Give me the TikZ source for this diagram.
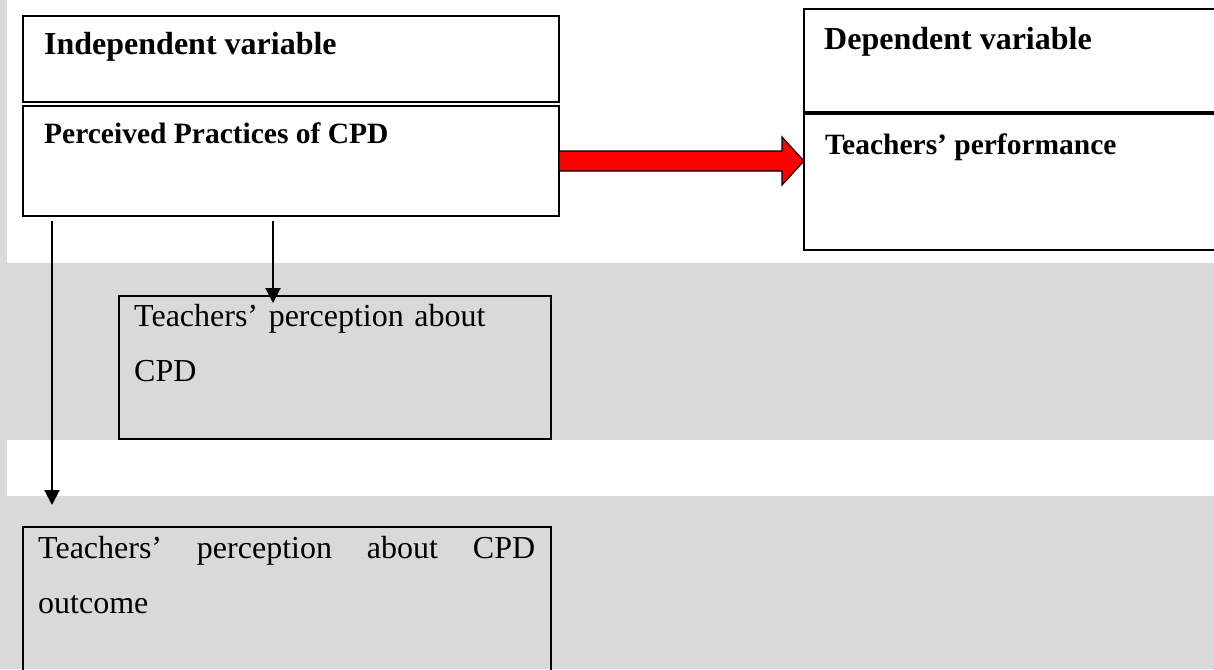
\documentclass[tikz,border=0pt]{standalone}
\usepackage{fontspec}
\setmainfont{Liberation Serif}
\usetikzlibrary{arrows.meta,calc}
\definecolor{bggray}{RGB}{217,217,217}
\definecolor{arrowred}{RGB}{255,0,0}
\newcommand{\spreadgap}{\hskip 0pt plus 1fill\relax}
\begin{document}
\begin{tikzpicture}[x=1pt,y=-1pt,
  box/.style={draw=black, line width=1.5pt, rectangle, inner sep=0pt, outer sep=0pt, anchor=north west},
  headtext/.style={anchor=base west, inner sep=0pt, font=\bfseries\fontsize{32}{38}\selectfont},
  subtext/.style={anchor=base west, inner sep=0pt, font=\bfseries\fontsize{29.5}{36}\selectfont},
  bodytext/.style={anchor=base west, inner sep=0pt, align=left, font=\fontsize{32}{55}\selectfont},
  conn/.style={draw=black, line width=2pt, -{Triangle[width=15pt,length=15pt]}},
  blockarrow/.style={fill=arrowred, draw=black, line width=1.2pt, line join=miter}
]
\useasboundingbox (0,0) rectangle (1214,669);
\clip (0,0) rectangle (1214,669);
% background bands
\fill[bggray] (0,0) rectangle (1214,669);
\fill[white] (7,0) rectangle (1214,263);
\fill[white] (7,440) rectangle (1214,496);

% boxes
\node[box, minimum width=536pt, minimum height=86pt] (ind) at (23,16) {};
\node[box, minimum width=536pt, minimum height=110pt] (perc) at (23,106) {};
\node[box, minimum width=430pt, minimum height=103pt] (dep) at (804,9) {};
\node[box, minimum width=430pt, minimum height=136pt] (perf) at (804,114) {};
\node[box, line width=2pt, minimum width=432pt, minimum height=143pt] (tpc) at (119,296) {};
\node[box, line width=2pt, minimum width=528pt, minimum height=200pt] (tpo) at (23,527) {};

% texts
\node[headtext] (indT) at (44,55) {Independent variable};
\node[subtext] (percT) at (44,143) {Perceived Practices of CPD};
\node[headtext] (depT) at (824,49) {Dependent variable};
\node[subtext] (perfT) at (825,154) {Teachers’ performance};
\node[bodytext, text width=400pt] (tpcT) at (134,326) {Teachers’ perception about\\CPD};
\node[bodytext, text width=497pt] (tpoT) at (38,558) {Teachers’\spreadgap perception\spreadgap about\spreadgap CPD\\outcome};

% connectors
\coordinate (s1) at ($(perc.south west)+(29,5)$);
\coordinate (t1) at ($(tpo.north west)+(29,-22)$);
\coordinate (s2) at ($(perc.south west)+(250,5)$);
\coordinate (t2) at ($(tpc.north west)+(154,7)$);
\draw[conn] (s1) -- (t1);
\draw[conn] (s2) -- (t2);

% red block arrow
\coordinate (tip) at (perf.west |- perc.east);
\draw[blockarrow] ($(perc.east)+(0,-10)$) -- ($(tip)+(-22,-10)$) -- ($(tip)+(-22,-24)$)
  -- (tip) -- ($(tip)+(-22,24)$) -- ($(tip)+(-22,10)$) -- ($(perc.east)+(0,10)$) -- cycle;
\end{tikzpicture}
\end{document}
